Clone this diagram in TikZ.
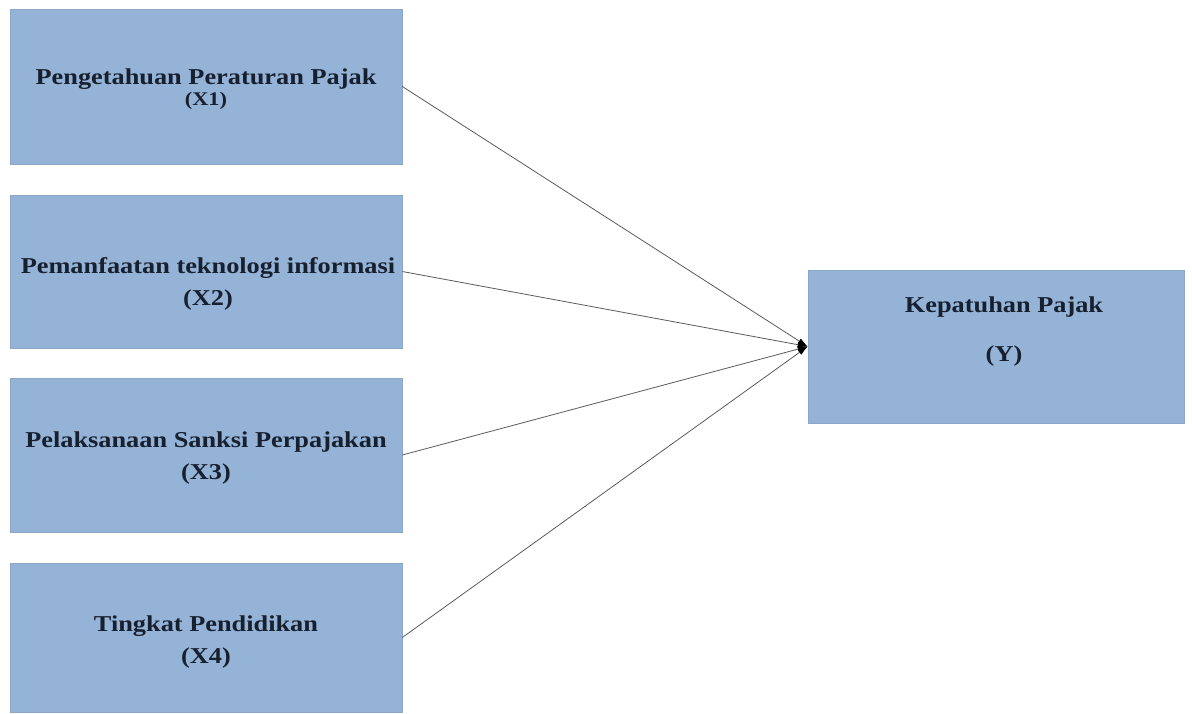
\documentclass[tikz,border=0pt]{standalone}
\usepackage{fontspec}
\setmainfont{Liberation Serif}[FakeStretch=1.16]
\usepackage{tikz}
\usetikzlibrary{arrows.meta,positioning}
\definecolor{boxblue}{HTML}{95B3D7}
\definecolor{boxedge}{HTML}{8CA8C9}
\definecolor{inkblue}{HTML}{17202E}
\definecolor{wiregray}{HTML}{5A5A5A}

\begin{document}
\begin{tikzpicture}[
  x=1pt,y=-1pt,
  factor/.style={draw=boxedge,line width=0.6pt,fill=boxblue,inner sep=0pt,
    minimum width=392pt},
  outcome/.style={factor,minimum width=376pt,minimum height=153pt},
  caption/.style={text=inkblue,align=center,inner sep=0pt,
    font=\fontsize{22.7}{32}\selectfont\bfseries},
  link/.style={draw=wiregray,line width=0.8pt,
    -{Latex[length=10pt,width=6pt,color=black]}},
]
  \useasboundingbox (0,0) rectangle (1192,713);

  % four independent variables stacked on the left
  \node[factor,minimum height=155pt] (x1) at (206,86.5) {};
  \node[factor,minimum height=153pt] (x2) at (206,271.5) {};
  \node[factor,minimum height=154pt] (x3) at (206,455) {};
  \node[factor,minimum height=149pt] (x4) at (206,637.5) {};
  \node[caption,font=\fontsize{22.7}{21}\selectfont\bfseries] (t1) at (206,89.5)
    {Pengetahuan Peraturan Pajak\\{\fontsize{19.3}{21}\selectfont (X1)}};
  \node[caption] (t2) at (208,284) {Pemanfaatan teknologi informasi\\(X2)};
  \node[caption] (t3) at (206,458) {Pelaksanaan Sanksi Perpajakan\\(X3)};
  \node[caption] (t4) at (206,642) {Tingkat Pendidikan\\(X4)};

  % dependent variable
  \node[outcome] (ky) at (996,346.5) {};
  \node[caption,font=\fontsize{22.7}{49}\selectfont\bfseries] (ty) at (1004,332)
    {Kepatuhan Pajak\\(Y)};

  \foreach \src in {x1,x2,x3,x4}
    \draw[link] (\src.east) -- (ky.west);
\end{tikzpicture}
\end{document}
